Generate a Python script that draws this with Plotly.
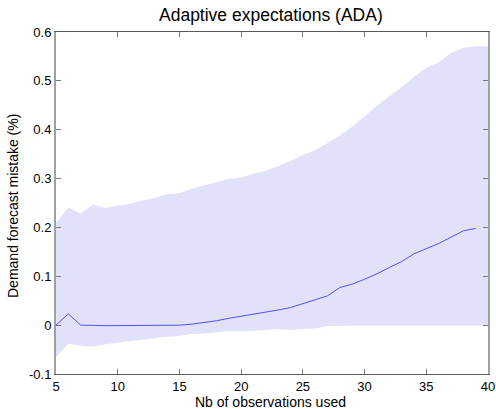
import plotly.graph_objects as go

x_band = list(range(5, 41))
upper = [0.209, 0.241, 0.228, 0.247, 0.240, 0.245, 0.248, 0.255, 0.260, 0.268,
         0.270, 0.279, 0.286, 0.293, 0.299, 0.302, 0.310, 0.316, 0.325, 0.336,
         0.348, 0.358, 0.373, 0.388, 0.406, 0.427, 0.449, 0.468, 0.487, 0.508,
         0.527, 0.538, 0.557, 0.568, 0.571, 0.571]
lower = [-0.065, -0.038, -0.042, -0.044, -0.039, -0.036, -0.032, -0.029, -0.026, -0.024,
         -0.022, -0.018, -0.017, -0.015, -0.012, -0.013, -0.012, -0.010, -0.008, -0.010,
         -0.008, -0.007, -0.002, -0.001, -0.001, -0.001, -0.001, -0.001, -0.001, -0.001,
         -0.001, -0.001, -0.001, -0.001, -0.001, -0.001]
x_mean = list(range(5, 40))
mean = [0.0, 0.023, 0.0, -0.001, -0.001, -0.001, -0.001, -0.001, -0.001, -0.001,
        0.0, 0.002, 0.005, 0.009, 0.014, 0.018, 0.022, 0.026, 0.031, 0.036,
        0.044, 0.053, 0.060, 0.077, 0.084, 0.094, 0.105, 0.118, 0.130, 0.146,
        0.157, 0.167, 0.180, 0.193, 0.198]
x_ticks = [5, 10, 15, 20, 25, 30, 35, 40]
y_ticks = [-0.1, 0, 0.1, 0.2, 0.3, 0.4, 0.5, 0.6]
y_tick_labels = ["-0.1", "0", "0.1", "0.2", "0.3", "0.4", "0.5", "0.6"]

W, H = 496, 409
L, R, T, B = 56, 8, 32, 35
fill_color = "rgb(225,225,250)"
fam = "Liberation Sans, Arial, sans-serif"

fig = go.Figure()
fig.add_trace(go.Scatter(x=x_band, y=lower, mode="lines", line=dict(width=0, color=fill_color),
                         showlegend=False, hoverinfo="skip"))
fig.add_trace(go.Scatter(x=x_band, y=upper, mode="lines", line=dict(width=0, color=fill_color),
                         fill="tonexty", fillcolor=fill_color, showlegend=False, hoverinfo="skip"))
fig.add_trace(go.Scatter(x=x_mean, y=mean, mode="lines", line=dict(width=1, color="rgb(80,80,245)"),
                         showlegend=False))

tickfont = dict(family=fam, size=13, color="black")
pw, ph = W - L - R, H - T - B
def px_x(px):
    return (px - L) / pw
def px_y(py):
    return (H - B - py) / ph

fig.update_layout(
    width=W, height=H,
    margin=dict(l=L, r=R, t=T, b=B),
    paper_bgcolor="white", plot_bgcolor="white",
    font=dict(family=fam, size=13, color="black"),
    xaxis=dict(range=[5, 40], tickvals=x_ticks, showgrid=False, zeroline=False,
               showline=True, linecolor="rgb(90,90,90)", linewidth=1, mirror="ticks",
               ticks="inside", ticklen=5, tickcolor="rgb(120,120,120)",
               tickfont=tickfont, automargin=False),
    yaxis=dict(range=[-0.1, 0.6], tickvals=y_ticks, ticktext=y_tick_labels, showgrid=False,
               zeroline=False, showline=True, linecolor="rgb(160,160,160)", linewidth=2,
               mirror="ticks", ticks="inside", ticklen=5, tickcolor="rgb(120,120,120)",
               tickfont=tickfont, automargin=False),
    annotations=[
        dict(text="Adaptive expectations (ADA)", xref="paper", yref="paper",
             x=px_x(271), y=px_y(15), xanchor="center", yanchor="middle", showarrow=False,
             font=dict(family=fam, size=17.5, color="black")),
        dict(text="Nb of observations used", xref="paper", yref="paper",
             x=px_x(270), y=px_y(402), xanchor="center", yanchor="middle", showarrow=False,
             font=dict(family=fam, size=14, color="black")),
        dict(text="Demand forecast mistake (%)", xref="paper", yref="paper",
             x=px_x(13), y=px_y(206), xanchor="center", yanchor="middle", showarrow=False,
             textangle=-90, font=dict(family=fam, size=14, color="black")),
    ],
)
fig.write_html("out.html", config={"displayModeBar": False},
               post_script="document.body.style.margin='0';document.body.style.overflow='hidden';")
